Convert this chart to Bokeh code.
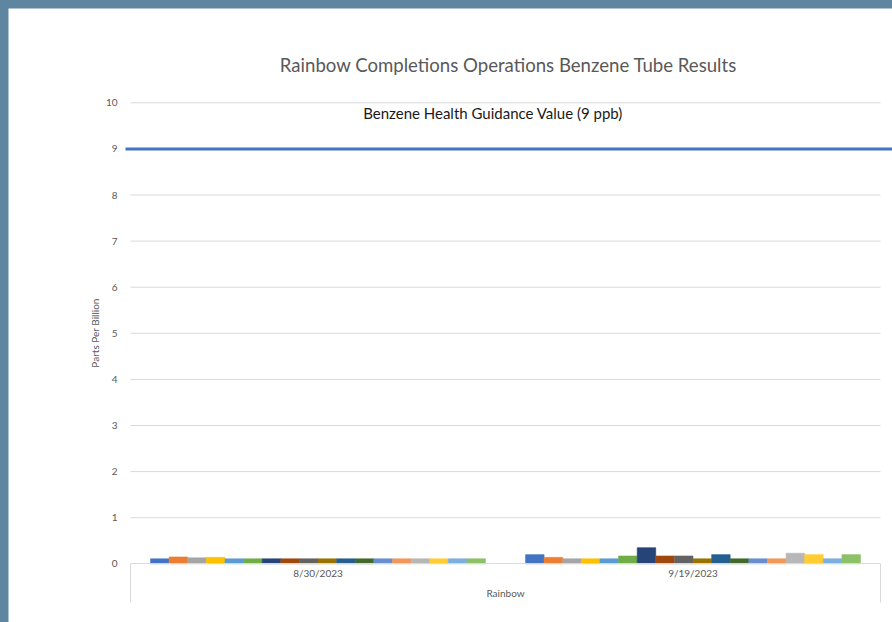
from bokeh.plotting import figure
from bokeh.models import (LinearAxis, FixedTicker, Range1d, Label,
                          ColumnDataSource, GlobalInlineStyleSheet)
from bokeh.core.properties import value
from bokeh.embed import file_html
from bokeh.resources import INLINE

# ---------------- data ----------------
dates = ["8/30/2023", "9/19/2023"]
series_colors = ["#4472C4", "#ED7D31", "#A5A5A5", "#FFC000", "#5B9BD5", "#70AD47",
                 "#264478", "#9E480E", "#636363", "#997300", "#255E91", "#43682B",
                 "#698ED0", "#F1975A", "#B7B7B7", "#FFCD33", "#7CAFDD", "#8CC168"]
values_0830 = [0.11, 0.15, 0.13, 0.14, 0.11, 0.11, 0.11, 0.11, 0.11,
               0.11, 0.11, 0.11, 0.11, 0.11, 0.11, 0.11, 0.11, 0.11]
values_0919 = [0.20, 0.14, 0.11, 0.11, 0.11, 0.17, 0.35, 0.17, 0.17,
               0.11, 0.20, 0.11, 0.11, 0.11, 0.23, 0.20, 0.11, 0.20]
y_ticks = [0, 1, 2, 3, 4, 5, 6, 7, 8, 9, 10]
guidance_value = 9
title_text = "Rainbow Completions Operations Benzene Tube Results"
guidance_text = "Benzene Health Guidance Value (9 ppb)"
x_title = "Rainbow"
y_title = "Parts Per Billion"

FONT = "Lato"
GRID = "#d9d9d9"
TXT = "#595959"

# ---------------- layout geometry ----------------
W, H = 884, 614
px_x = 375.0      # pixels per category
px_y = 46.1       # pixels per ppb
x0_page, y0_page = 130.0, 563.3
x_start = -(x0_page - 8) / px_x
x_end = 2 + (892 - 880) / px_x
y_end = 10 + (102.3 - 8) / px_y
y_start = -(622 - y0_page) / px_y

p = figure(width=W, height=H, output_backend="svg", toolbar_location=None,
           x_range=Range1d(x_start, x_end), y_range=Range1d(y_start, y_end),
           x_axis_location=None, y_axis_location=None,
           min_border=0, min_border_left=0, min_border_right=0,
           min_border_top=0, min_border_bottom=0)
p.outline_line_color = None
p.background_fill_color = "white"
p.border_fill_color = "white"
p.xgrid.visible = False
p.ygrid.visible = False
p.stylesheets = [GlobalInlineStyleSheet(
    css="html, body {background-color: #5e86a1; overflow: hidden;} "
        "body {margin: 8px 0 0 8px !important; padding: 0 !important;}")]

# gridlines
grid_src = ColumnDataSource(dict(y=[t for t in y_ticks if t > 0]))
p.segment(x0=0, x1=len(dates), y0="y", y1="y", source=grid_src,
          line_color=GRID, line_width=1)

# category box lines below the axis
box_depth = -(602 - y0_page) / px_y
box_src = ColumnDataSource(dict(x=[0, len(dates)]))
p.segment(x0="x", x1="x", y0=0, y1=box_depth, source=box_src,
          line_color=GRID, line_width=1)

# bars
n = len(series_colors)
group_w = 335.0 / 375.0
bar_w = group_w / n
xs, tops, cols = [], [], []
for gi, vals in enumerate([values_0830, values_0919]):
    for si, v in enumerate(vals):
        xs.append(gi + (1 - group_w) / 2 + (si + 0.5) * bar_w)
        tops.append(v)
        cols.append(series_colors[si])
bar_src = ColumnDataSource(dict(x=xs, top=tops, color=cols))
p.vbar(x="x", top="top", bottom=0, width=bar_w, source=bar_src,
       fill_color="color", line_color="color", line_width=0.5)

# guidance line
p.line(x=[-5 / px_x, x_end], y=[guidance_value, guidance_value],
       line_color="#4472C4", line_width=3)

# axes
xaxis = LinearAxis(fixed_location=0, bounds=(0, len(dates)),
                   ticker=FixedTicker(ticks=[i + 0.5 for i in range(len(dates))]),
                   major_label_overrides={i + 0.5: d for i, d in enumerate(dates)},
                   axis_label=x_title)
xaxis.axis_line_color = GRID
xaxis.major_tick_line_color = None
xaxis.minor_tick_line_color = None
xaxis.major_label_text_font = FONT
xaxis.major_label_text_font_size = "10px"
xaxis.major_label_text_color = TXT
xaxis.major_label_standoff = -3
xaxis.axis_label_text_font = FONT
xaxis.axis_label_text_font_size = "10px"
xaxis.axis_label_text_font_style = "normal"
xaxis.axis_label_text_color = TXT
xaxis.axis_label_standoff = 5
p.add_layout(xaxis, "below")

yaxis = LinearAxis(fixed_location=0, bounds=(0, 10),
                   ticker=FixedTicker(ticks=y_ticks), axis_label=y_title)
yaxis.axis_line_color = None
yaxis.major_tick_line_color = None
yaxis.minor_tick_line_color = None
yaxis.major_label_text_font = FONT
yaxis.major_label_text_font_size = "10px"
yaxis.major_label_text_color = TXT
yaxis.major_label_standoff = 7
yaxis.axis_label_text_font = FONT
yaxis.axis_label_text_font_size = "10px"
yaxis.axis_label_text_font_style = "normal"
yaxis.axis_label_text_color = TXT
yaxis.axis_label_standoff = 2
p.add_layout(yaxis, "left")

# title and guidance annotation
p.add_layout(Label(x=1.008, y=(y0_page - 64) / px_y, text=title_text,
                   text_align="center", text_baseline="middle",
                   text_font=FONT, text_font_size="18.6px", text_color=TXT))
p.add_layout(Label(x=(492.5 - x0_page) / px_x, y=(y0_page - 112) / px_y,
                   text=guidance_text, text_align="center", text_baseline="middle",
                   text_font=FONT, text_font_size="15px", text_color="#1a1a1a"))

open("out.html", "w").write(file_html(p, INLINE))
